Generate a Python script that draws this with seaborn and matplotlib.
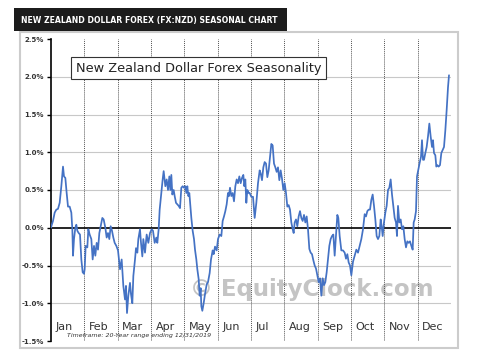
import matplotlib
matplotlib.use("Agg")
import matplotlib.pyplot as plt
from matplotlib.patches import Rectangle
import seaborn as sns
import pandas as pd

# month position (0 = start of Jan, 12 = end of Dec) and average seasonal change (%)
month_pos = [
    0.0, 0.01, 0.06, 0.11, 0.16, 0.21, 0.26, 0.31, 0.36, 0.39, 0.43, 0.47, 0.51, 0.56, 0.61, 0.64,
    0.66, 0.69, 0.73, 0.76, 0.79, 0.83, 0.87, 0.91, 0.95, 0.99, 1.01, 1.04, 1.09, 1.12, 1.16,
    1.21, 1.25, 1.29, 1.33, 1.37, 1.41, 1.45, 1.49, 1.54, 1.58, 1.63, 1.67, 1.71, 1.75, 1.79,
    1.83, 1.87, 1.91, 1.96, 2.01, 2.07, 2.12, 2.17, 2.22, 2.25, 2.28, 2.32, 2.37, 2.40, 2.44,
    2.47, 2.52, 2.55, 2.59, 2.62, 2.67, 2.70, 2.74, 2.77, 2.82, 2.87, 2.92, 2.97, 3.02, 3.06,
    3.11, 3.16, 3.19, 3.23, 3.26, 3.31, 3.35, 3.38, 3.43, 3.47, 3.51, 3.55, 3.58, 3.61, 3.64,
    3.68, 3.71, 3.75, 3.79, 3.83, 3.87, 3.91, 3.95, 3.99, 4.03, 4.06, 4.09, 4.12, 4.15, 4.18,
    4.21, 4.25, 4.29, 4.32, 4.36, 4.39, 4.43, 4.46, 4.49, 4.51, 4.54, 4.58, 4.62, 4.67, 4.71,
    4.76, 4.80, 4.85, 4.88, 4.92, 4.97, 5.01, 5.06, 5.11, 5.15, 5.19, 5.23, 5.27, 5.31, 5.34,
    5.37, 5.41, 5.45, 5.49, 5.53, 5.57, 5.61, 5.65, 5.69, 5.73, 5.77, 5.80, 5.83, 5.86, 5.89,
    5.93, 5.96, 6.01, 6.06, 6.11, 6.16, 6.21, 6.26, 6.29, 6.33, 6.37, 6.41, 6.45, 6.49, 6.53,
    6.57, 6.61, 6.65, 6.69, 6.73, 6.77, 6.81, 6.85, 6.89, 6.93, 6.97, 7.01, 7.05, 7.09, 7.13,
    7.17, 7.21, 7.25, 7.28, 7.31, 7.35, 7.39, 7.43, 7.47, 7.51, 7.55, 7.59, 7.63, 7.67, 7.71,
    7.75, 7.79, 7.83, 7.87, 7.91, 7.95, 7.99, 8.03, 8.07, 8.11, 8.15, 8.19, 8.23, 8.27, 8.31,
    8.35, 8.39, 8.43, 8.47, 8.51, 8.55, 8.59, 8.62, 8.66, 8.71, 8.76, 8.81, 8.85, 8.89, 8.93,
    8.97, 9.01, 9.06, 9.11, 9.16, 9.21, 9.26, 9.31, 9.36, 9.41, 9.45, 9.49, 9.53, 9.57, 9.61,
    9.65, 9.69, 9.73, 9.77, 9.81, 9.85, 9.89, 9.92, 9.95, 9.99, 10.03, 10.07, 10.11, 10.15, 10.19,
    10.23, 10.27, 10.31, 10.35, 10.38, 10.41, 10.45, 10.49, 10.53, 10.57, 10.61, 10.65, 10.69, 10.73, 10.77,
    10.81, 10.85, 10.88, 10.91, 10.95, 10.98, 11.02, 11.06, 11.10, 11.13, 11.16, 11.19, 11.23, 11.27, 11.31,
    11.35, 11.39, 11.43, 11.46, 11.49, 11.53, 11.56, 11.59, 11.63, 11.67, 11.71, 11.75, 11.79, 11.83, 11.87,
    11.91, 11.94,
]
seasonal_pct = [
    0.0, 0.02, 0.09, 0.20, 0.24, 0.25, 0.33, 0.55, 0.81, 0.68, 0.66, 0.46, 0.28, 0.28, 0.20, -0.02,
    -0.37, -0.15, 0.00, 0.04, -0.04, -0.07, -0.09, -0.42, -0.59, -0.61, -0.55, -0.24, -0.26, -0.02, -0.09,
    -0.15, -0.42, -0.24, -0.37, -0.20, -0.29, -0.07, 0.02, 0.13, 0.11, 0.00, -0.13, -0.07, -0.15, 0.02,
    -0.04, -0.13, -0.20, -0.24, -0.30, -0.55, -0.42, -0.77, -0.95, -0.77, -1.13, -0.90, -0.73, -0.88, -1.00,
    -0.64, -0.42, -0.27, -0.33, -0.15, -0.02, -0.20, -0.38, -0.15, -0.33, -0.09, -0.20, -0.07, -0.02, -0.04,
    -0.20, -0.13, -0.20, -0.02, 0.24, 0.46, 0.64, 0.75, 0.55, 0.64, 0.50, 0.68, 0.50, 0.70, 0.44,
    0.50, 0.42, 0.33, 0.31, 0.29, 0.26, 0.53, 0.55, 0.53, 0.55, 0.46, 0.55, 0.42, 0.46, 0.29,
    0.13, -0.04, -0.15, -0.29, -0.42, -0.55, -0.68, -0.90, -0.80, -1.04, -1.10, -1.00, -0.88, -0.75, -0.72,
    -0.60, -0.42, -0.30, -0.35, -0.25, -0.30, -0.15, -0.09, -0.11, 0.09, 0.15, 0.22, 0.31, 0.46, 0.42,
    0.53, 0.42, 0.46, 0.35, 0.55, 0.64, 0.59, 0.68, 0.59, 0.66, 0.70, 0.55, 0.64, 0.33, 0.50,
    0.46, 0.46, 0.41, 0.41, 0.13, 0.33, 0.59, 0.76, 0.72, 0.63, 0.80, 0.87, 0.85, 0.67, 0.76,
    0.93, 1.11, 1.09, 0.85, 0.80, 0.74, 0.80, 0.63, 0.76, 0.65, 0.50, 0.59, 0.46, 0.28, 0.30,
    0.24, 0.07, -0.02, -0.07, 0.07, 0.11, 0.02, 0.15, 0.22, 0.13, 0.09, 0.17, 0.07, 0.15, -0.02,
    -0.28, -0.33, -0.35, -0.43, -0.50, -0.54, -0.63, -0.72, -0.67, -0.90, -0.67, -0.76, -0.72, -0.59, -0.41,
    -0.24, -0.15, -0.11, -0.09, -0.37, -0.11, 0.17, 0.13, -0.11, -0.30, -0.30, -0.33, -0.41, -0.35, -0.46,
    -0.50, -0.63, -0.45, -0.37, -0.29, -0.33, -0.24, -0.15, -0.02, 0.18, 0.15, 0.22, 0.24, 0.24, 0.37,
    0.44, 0.29, 0.11, -0.11, -0.15, -0.11, 0.11, 0.02, -0.11, 0.07, 0.20, 0.29, 0.50, 0.53, 0.64,
    0.44, 0.29, 0.13, 0.07, -0.11, 0.29, 0.07, 0.11, -0.02, 0.02, -0.15, -0.26, -0.18, -0.20, -0.18,
    -0.24, -0.29, 0.07, 0.11, 0.22, 0.68, 0.77, 0.86, 0.94, 1.16, 0.90, 0.90, 0.99, 1.07, 1.21,
    1.38, 1.21, 1.07, 1.16, 0.99, 0.96, 0.81, 0.83, 0.81, 0.83, 0.99, 1.03, 1.07, 1.29, 1.56,
    1.86, 2.02,
]
month_labels = ["Jan", "Feb", "Mar", "Apr", "May", "Jun",
                "Jul", "Aug", "Sep", "Oct", "Nov", "Dec"]
y_ticks = [-1.5, -1.0, -0.5, 0.0, 0.5, 1.0, 1.5, 2.0, 2.5]

df = pd.DataFrame({"month": month_pos, "pct": seasonal_pct})

sns.set_style("white")
W, H = 479, 354
fig = plt.figure(figsize=(W / 100, H / 100), dpi=100)

# outer panel and dark header tab (behind the axes)
fig.patches.append(Rectangle((20 / W, 6 / H), 438 / W, 316 / H, transform=fig.transFigure,
                             facecolor="white", edgecolor="#cccccc", linewidth=1.5, zorder=-2))
fig.patches.append(Rectangle((14 / W, 323 / H), 273 / W, 23 / H, transform=fig.transFigure,
                             facecolor="#1c1c1c", edgecolor="none", zorder=-1))
fig.text(21 / W, 334 / H, "NEW ZEALAND DOLLAR FOREX (FX:NZD) SEASONAL CHART",
         color="white", fontsize=5.6, fontweight="bold", va="center", ha="left")

ax = fig.add_axes([51 / W, 13 / H, 400 / W, 302 / H])
ax.set_facecolor("none")

# watermark behind the data
ax.text(4.17, -0.82, "\u00a9 EquityClock.com", fontsize=16.5, fontweight="bold",
        color="#c4c4c4", va="center", ha="left", zorder=0)

for v in y_ticks:
    if v not in (0.0, -1.5, 2.5):
        ax.axhline(v, color="#c8c8c8", lw=0.8, zorder=1)
for m in range(1, 12):
    ax.axvline(m, color="#555555", lw=0.7, ls=(0, (1, 1)), zorder=1)
ax.axhline(0, color="black", lw=1.2, zorder=2)

sns.lineplot(data=df, x="month", y="pct", ax=ax, color="#4472c4", lw=1.25,
             estimator=None, sort=False, zorder=3)

ax.set_xlim(0, 12)
ax.set_ylim(-1.5, 2.5)
ax.set_xticks([])
ax.set_yticks(y_ticks)
ax.set_yticklabels([f"{v:.1f}%" for v in y_ticks], fontsize=5, fontweight="bold", color="#333333")
ax.tick_params(axis="y", length=3, width=1, color="black", pad=2, left=True)
for side in ["top", "right", "bottom"]:
    ax.spines[side].set_visible(False)
ax.spines["left"].set_color("black")
ax.spines["left"].set_linewidth(1.2)
ax.set_xlabel("")
ax.set_ylabel("")

for i, name in enumerate(month_labels):
    ax.text(i + 0.14, -1.31, name, fontsize=8, color="#333333", va="center", ha="left")

ax.text(0.48, -1.43, "Timeframe: 20-Year range ending 12/31/2019", fontsize=4.5,
        style="italic", color="#333333", va="center", ha="left")

ax.text(0.75, 2.115, "New Zealand Dollar Forex Seasonality", fontsize=9.3, color="#222222",
        va="center", ha="left",
        bbox=dict(boxstyle="square,pad=0.35", facecolor="white", edgecolor="#333333", lw=0.8),
        zorder=4)

fig.savefig("out.png", dpi=100)
